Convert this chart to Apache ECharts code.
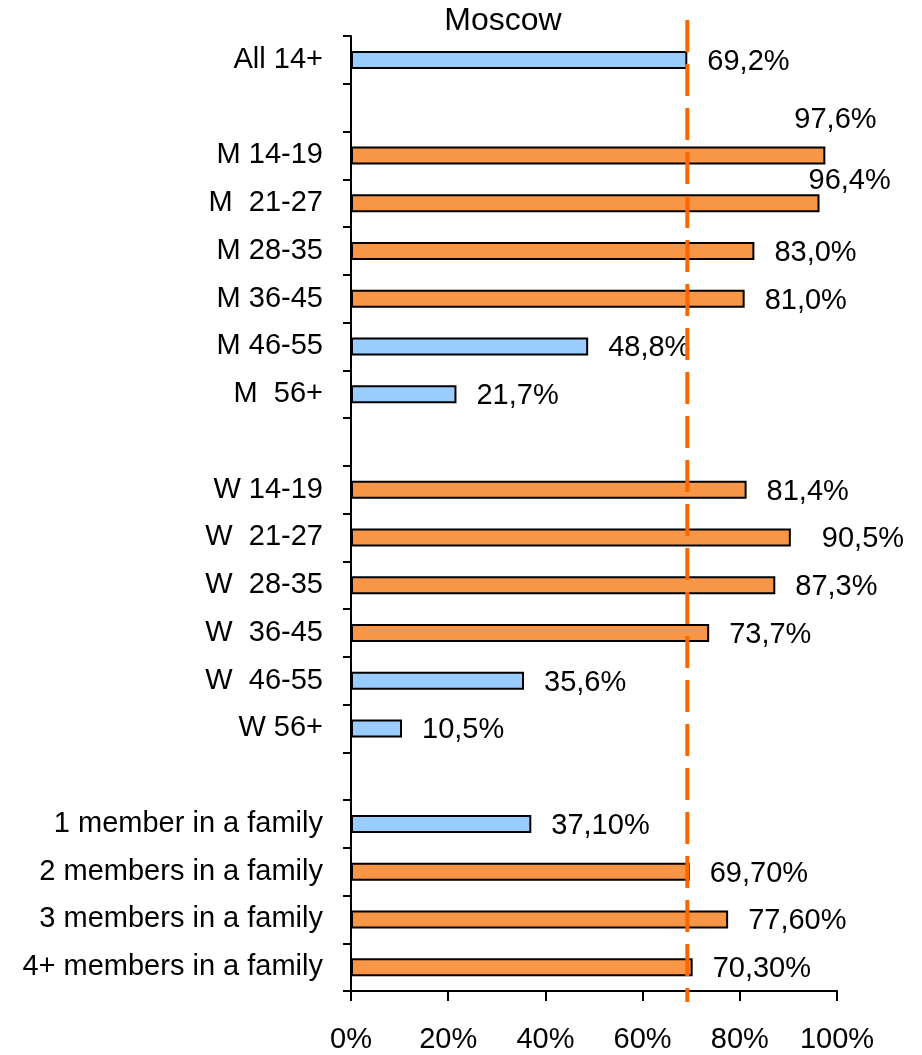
<!DOCTYPE html>
<html lang="en">

<head>
    <meta charset="UTF-8">
    <title>Moscow</title>
    <script src="https://cdn.jsdelivr.net/npm/echarts@6/dist/echarts.min.js"></script>
    <style>
        html, body { margin: 0; padding: 0; background: #fff; }
        #main { width: 922px; height: 1055px; }
    </style>
</head>

<body>
    <div id="main"></div>
    <script>
        // rows top to bottom, blank names are the spacer rows
        var categories = ['All 14+', '', 'M 14-19', 'M  21-27', 'M 28-35', 'M 36-45', 'M 46-55', 'M  56+', ' ',
            'W 14-19', 'W  21-27', 'W  28-35', 'W  36-45', 'W  46-55', 'W 56+', '  ',
            '1 member in a family', '2 members in a family', '3 members in a family', '4+ members in a family'];
        var shares = [69.2, null, 97.6, 96.4, 83.0, 81.0, 48.8, 21.7, null,
            81.4, 90.5, 87.3, 73.7, 35.6, 10.5, null,
            37.1, 69.7, 77.6, 70.3];
        var xTicks = [0, 20, 40, 60, 80, 100];

        var average = shares[0];
        var blue = '#99CCFF', orange = '#F79646';

        // labels that were dragged by hand in the original
        var labelNudge = {
            'M 14-19': [-51, -35],
            'M  21-27': [-31, -22],
            'W  21-27': [11, 2]
        };

        var barData = shares.map(function (v, i) {
            if (v === null) return '-';
            var name = categories[i];
            return {
                value: v,
                itemStyle: { color: (i > 0 && v > average) ? orange : blue },
                label: { offset: labelNudge[name] || [0, 2] }
            };
        });

        var font = 'Liberation Sans, Arial, sans-serif';
        var myChart = echarts.init(document.getElementById('main'));

        var option = {
            animation: false,
            title: {
                text: 'Moscow',
                left: 498,
                top: 0,
                textAlign: 'center',
                textStyle: { fontFamily: font, fontSize: 32, fontWeight: 'normal', color: '#000' }
            },
            grid: [{
                left: 351, right: 85, top: 36, bottom: 64, outerBoundsMode: 'none'
            }, { // taller grid just for the average line
                left: 351, right: 85, top: 20, bottom: 53, outerBoundsMode: 'none'
            }],
            xAxis: [{
                type: 'value',
                gridIndex: 0,
                min: xTicks[0],
                max: xTicks[xTicks.length - 1],
                interval: xTicks[1] - xTicks[0],
                splitLine: { show: false },
                axisLine: { show: true, lineStyle: { color: '#000', width: 2 } },
                axisTick: { show: true, length: 10, lineStyle: { color: '#000', width: 2 } },
                axisLabel: {
                    formatter: '{value}%',
                    margin: 34,
                    fontFamily: font,
                    fontSize: 29,
                    color: '#000'
                }
            }, {
                type: 'value',
                gridIndex: 1,
                min: xTicks[0],
                max: xTicks[xTicks.length - 1],
                show: false
            }],
            yAxis: [{
                type: 'category',
                gridIndex: 0,
                inverse: true,
                data: categories,
                axisLine: { show: true, lineStyle: { color: '#000', width: 2 } },
                axisTick: { show: true, length: 8, lineStyle: { color: '#000', width: 2 } },
                axisLabel: {
                    margin: 28,
                    fontFamily: font,
                    fontSize: 29,
                    color: '#000'
                }
            }, {
                type: 'value',
                gridIndex: 1,
                min: 0,
                max: 1,
                show: false
            }],
            series: [{
                type: 'bar',
                xAxisIndex: 0,
                yAxisIndex: 0,
                barWidth: 18,
                itemStyle: { borderColor: '#000', borderWidth: 2 },
                label: {
                    show: true,
                    position: 'right',
                    distance: 20,
                    fontFamily: font,
                    fontSize: 29,
                    color: '#000',
                    formatter: function (p) {
                        var digits = categories[p.dataIndex].indexOf('family') >= 0 ? 2 : 1;
                        return p.value.toFixed(digits).replace('.', ',') + '%';
                    }
                },
                data: barData
            }, { // dashed average line
                type: 'line',
                xAxisIndex: 1,
                yAxisIndex: 1,
                symbol: 'none',
                silent: true,
                z: 10,
                lineStyle: { color: '#FF6600', width: 4, type: [32, 12] },
                data: [[average, 1], [average, 0]]
            }]
        };

        myChart.setOption(option);
        window.onresize = function () {
            myChart.resize();
        };
    </script>
</body>

</html>
